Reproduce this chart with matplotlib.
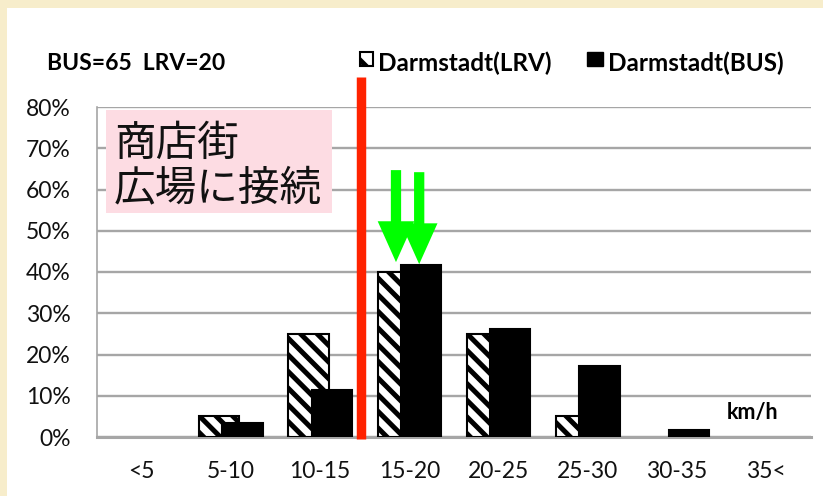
import matplotlib
matplotlib.use("Agg")
import matplotlib.pyplot as plt
from matplotlib.patches import Rectangle, FancyArrow
import numpy as np

plt.rcParams['font.family'] = ['Lato', 'Noto Sans CJK JP', 'DejaVu Sans']
plt.rcParams['hatch.linewidth'] = 3.6

categories = ['<5', '5-10', '10-15', '15-20', '20-25', '25-30', '30-35', '35<']
lrv = [0, 5, 25, 40, 25, 5, 0, 0]
bus = [0, 3.4, 11.3, 41.6, 26.2, 17.2, 1.6, 0]
yticks = [0, 10, 20, 30, 40, 50, 60, 70, 80]
ytick_labels = ['0%', '10%', '20%', '30%', '40%', '50%', '60%', '70%', '80%']
header_text = 'BUS=65  LRV=20'
legend_labels = ['Darmstadt(LRV)', 'Darmstadt(BUS)']
note_text = '商店街\n広場に接続'
unit_text = 'km/h'

W, H = 823, 496
fig = plt.figure(figsize=(W / 100, H / 100), dpi=100)
fig.patch.set_facecolor('#F7EDCB')

def fx(px):
    return px / W

def fy(py):
    return 1 - py / H

# white panel
fig.add_artist(Rectangle((fx(7), 0), 1 - fx(7), fy(8), transform=fig.transFigure,
                         facecolor='white', edgecolor='none', zorder=-10))

ax = fig.add_axes([fx(97), fy(437), fx(811) - fx(97), fy(107) - fy(437)])
ax.set_facecolor('none')

x = np.arange(len(categories))
bw = 0.45
off = 0.13
lw_lrv = [1.5 if v > 0 else 0 for v in lrv]
lw_bus = [1.5 if v > 0 else 0 for v in bus]
ax.bar(x - off, lrv, width=bw, facecolor='white', edgecolor='black', hatch='\\\\',
       linewidth=lw_lrv, zorder=3)
ax.bar(x + off, bus, width=bw, facecolor='black', edgecolor='black',
       linewidth=lw_bus, zorder=4)

ax.set_xlim(-0.5, len(categories) - 0.5)
ax.set_ylim(0, 80)
ax.set_yticks(yticks)
ax.set_yticklabels(ytick_labels, fontsize=16.5, color='#111111')
ax.set_xticks(x)
ax.set_xticklabels(categories, fontsize=16.5, color='#111111')
ax.tick_params(axis='both', length=0)
ax.tick_params(axis='x', pad=17)
ax.tick_params(axis='y', pad=19)
ax.grid(axis='y', color='#A6A6A6', linewidth=1.7, zorder=0)
for s in ['top', 'right']:
    ax.spines[s].set_visible(False)
ax.spines['left'].set_color('#A6A6A6')
ax.spines['left'].set_linewidth(1.2)
ax.spines['bottom'].set_color('#A6A6A6')
ax.spines['bottom'].set_linewidth(2.2)

# red separator line
ax.plot([2.46, 2.46], [-0.6, 87.3], color='#FF2200', linewidth=6.8,
        solid_capstyle='butt', clip_on=False, zorder=6)

# green arrows
for xa, ytail, ytip in [(2.85, 64.7, 42.4), (3.11, 64.2, 41.9)]:
    ax.add_patch(FancyArrow(xa, ytail, 0, ytip - ytail, width=0.115,
                            head_width=0.41, head_length=9.9,
                            length_includes_head=True, color='#00FF00',
                            linewidth=0, zorder=7))

# pink box with note
fig.add_artist(Rectangle((fx(106), fy(213)), fx(332) - fx(106), fy(110) - fy(213),
                         transform=fig.transFigure, facecolor='#FDDCE3',
                         edgecolor='none', zorder=5))
fig.text(fx(114), fy(167), note_text, fontsize=30, color='#111111',
         family=['Noto Sans CJK JP', 'DejaVu Sans'], va='center', ha='left',
         linespacing=1.1, zorder=6)

# header
fig.text(fx(47), fy(63), header_text, fontsize=16.5, fontweight='bold',
         va='center', ha='left', color='black')

# legend
fig.add_artist(Rectangle((fx(360), fy(66)), fx(373) - fx(360), fy(52) - fy(66),
                         transform=fig.transFigure, facecolor='white',
                         edgecolor='black', hatch='\\', linewidth=1.5))
fig.text(fx(378), fy(63), legend_labels[0], fontsize=17.5, fontweight='bold',
         va='center', ha='left', color='black')
fig.add_artist(Rectangle((fx(587), fy(66)), fx(603) - fx(587), fy(52) - fy(66),
                         transform=fig.transFigure, facecolor='black',
                         edgecolor='black', linewidth=1))
fig.text(fx(608), fy(63), legend_labels[1], fontsize=17.5, fontweight='bold',
         va='center', ha='left', color='black')

# unit
fig.text(fx(727), fy(413), unit_text, fontsize=15.5, fontweight='bold',
         va='center', ha='left', color='black')

fig.savefig('out.png', dpi=100, facecolor=fig.get_facecolor())
